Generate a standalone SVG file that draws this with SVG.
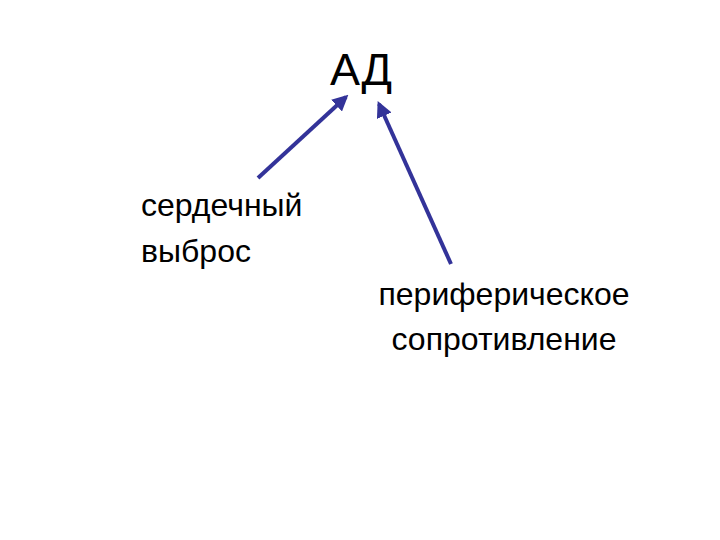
<svg xmlns="http://www.w3.org/2000/svg" width="720" height="540" viewBox="0 0 720 540">
<style>
text{font-family:"Liberation Sans",Arial,sans-serif;fill:#000}
.lbl{font-size:32px}
.con{stroke:#333399;stroke-width:4;fill:none}
</style>
<defs>
<marker id="ah" viewBox="0 0 10 10" refX="8" refY="5" markerWidth="4" markerHeight="4" markerUnits="strokeWidth" orient="auto">
<path d="M0,0 L10,5 L0,10 z" fill="#333399"/>
</marker>
</defs>
<rect width="720" height="540" fill="#fff"/>
<g id="node-ad"><text x="330" y="85" style="font-size:45px">АД</text></g>
<g id="node-output"><text class="lbl" x="141" y="216">сердечный</text><text class="lbl" x="141" y="262">выброс</text></g>
<g id="node-resistance"><text class="lbl" x="504" y="305" text-anchor="middle">периферическое</text><text class="lbl" x="504" y="350" text-anchor="middle">сопротивление</text></g>
<g id="connectors">
<line class="con" x1="258" y1="178" x2="346" y2="97" marker-end="url(#ah)"/>
<line class="con" x1="451" y1="264" x2="379" y2="104" marker-end="url(#ah)"/>
</g>
</svg>
